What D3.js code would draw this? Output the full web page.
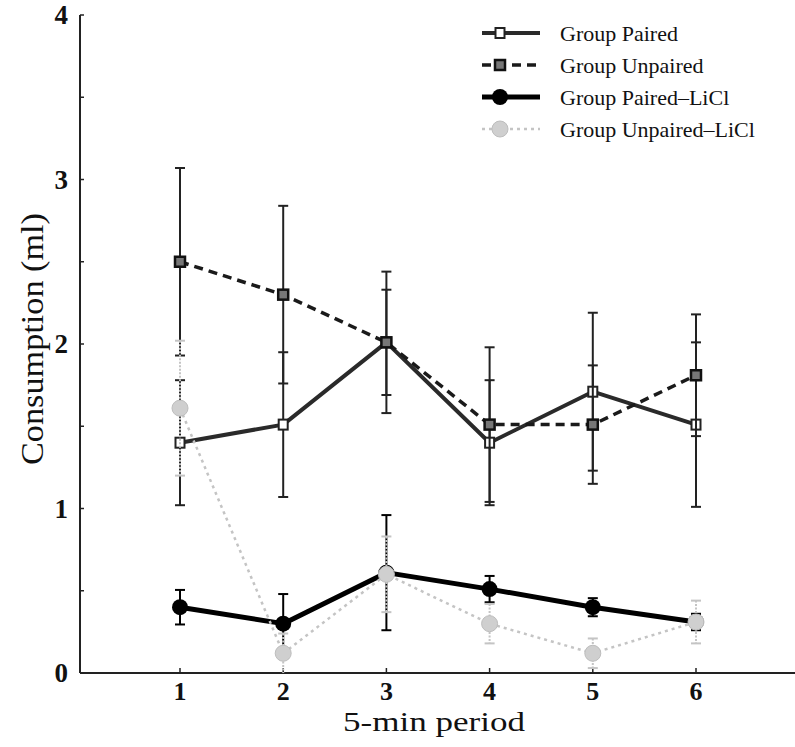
<!DOCTYPE html>
<html>
<head>
<meta charset="utf-8">
<script src="https://cdn.jsdelivr.net/npm/d3@7"></script>
<style>
  html, body { margin: 0; padding: 0; background: #fff; }
  svg { display: block; }
  text { font-family: "Liberation Serif", "Times New Roman", serif; fill: #111; }
</style>
</head>
<body>
<svg id="chart" width="795" height="747"></svg>
<script>
// ---------- data ----------
const periods = [1, 2, 3, 4, 5, 6];
const yTickValues = [0, 1, 2, 3, 4];
const yMinorTicks = [0, 0.5, 1, 1.5, 2, 2.5, 3, 3.5, 4];

const paired        = [1.40, 1.51, 2.01, 1.40, 1.71, 1.51];
const pairedErr     = [0.38, 0.44, 0.32, 0.38, 0.48, 0.50];
const unpaired      = [2.50, 2.30, 2.01, 1.51, 1.51, 1.81];
const unpairedErr   = [0.57, 0.54, 0.43, 0.47, 0.36, 0.37];
const pairedLiCl    = [0.40, 0.30, 0.61, 0.51, 0.40, 0.31];
const pairedLiClErr = [0.105, 0.18, 0.35, 0.08, 0.055, 0.05];
const unpairedLiCl    = [1.61, 0.12, 0.60, 0.30, 0.12, 0.31];
const unpairedLiClErr = [0.41, 0.12, 0.23, 0.12, 0.09, 0.13];

const seriesNames = ["Group Paired", "Group Unpaired", "Group Paired\u2013LiCl", "Group Unpaired\u2013LiCl"];

// ---------- layout ----------
const svg = d3.select("#chart");
const x = d3.scaleLinear().domain([1, 6]).range([180, 696]);
const y = d3.scaleLinear().domain([0, 4]).range([673, 15]);
const axisLeftX = 80, axisRightX = 795;

const styles = [
  { values: paired, err: pairedErr, color: "#2a2a2a", width: 4, dash: null, marker: "openSquare", errColor: "#222" },
  { values: unpaired, err: unpairedErr, color: "#1a1a1a", width: 3.5, dash: "9,6", marker: "square", errColor: "#222" },
  { values: pairedLiCl, err: pairedLiClErr, color: "#000", width: 5, dash: null, marker: "circle", errColor: "#000" },
  { values: unpairedLiCl, err: unpairedLiClErr, color: "#c4c4c4", width: 2.5, dash: "3,4", marker: "grayCircle", errColor: "#c4c4c4" }
];

// ---------- axes ----------
const gAxes = svg.append("g");
gAxes.append("line").attr("x1", axisLeftX).attr("x2", axisLeftX)
  .attr("y1", y(4)).attr("y2", y(0)).attr("stroke", "#222").attr("stroke-width", 2);
gAxes.append("line").attr("x1", axisLeftX).attr("x2", axisRightX)
  .attr("y1", y(0)).attr("y2", y(0)).attr("stroke", "#222").attr("stroke-width", 2);

gAxes.selectAll(".ytick").data(yMinorTicks).join("line")
  .attr("x1", axisLeftX).attr("x2", axisLeftX + 4)
  .attr("y1", d => y(d)).attr("y2", d => y(d))
  .attr("stroke", "#222").attr("stroke-width", 1.5);

gAxes.selectAll(".ylab").data(yTickValues).join("text")
  .attr("x", 68).attr("y", d => y(d))
  .attr("text-anchor", "end").attr("dominant-baseline", "central")
  .attr("font-size", 27).attr("font-weight", "bold")
  .text(d => d);

gAxes.selectAll(".xtick").data(periods).join("line")
  .attr("x1", d => x(d)).attr("x2", d => x(d))
  .attr("y1", y(0)).attr("y2", y(0) - 5)
  .attr("stroke", "#222").attr("stroke-width", 1.5);

gAxes.selectAll(".xlab").data(periods).join("text")
  .attr("x", d => x(d)).attr("y", 700)
  .attr("text-anchor", "middle")
  .attr("font-size", 26).attr("font-weight", "bold")
  .text(d => d);

svg.append("text")
  .attr("x", 434).attr("y", 731)
  .attr("text-anchor", "middle")
  .attr("font-size", 27)
  .attr("textLength", 182).attr("lengthAdjust", "spacingAndGlyphs")
  .text("5-min period");

svg.append("text")
  .attr("transform", "translate(43,339) rotate(-90)")
  .attr("text-anchor", "middle")
  .attr("font-size", 31)
  .attr("textLength", 252).attr("lengthAdjust", "spacingAndGlyphs")
  .text("Consumption (ml)");

// ---------- series ----------
function drawMarker(g, type, cx, cy) {
  if (type === "openSquare") {
    g.append("rect").attr("x", cx - 4.5).attr("y", cy - 5).attr("width", 9).attr("height", 10)
      .attr("fill", "#fff").attr("stroke", "#222").attr("stroke-width", 2);
  } else if (type === "square") {
    g.append("rect").attr("x", cx - 5).attr("y", cy - 5).attr("width", 10).attr("height", 10)
      .attr("fill", "#777").attr("stroke", "#111").attr("stroke-width", 2.5);
  } else if (type === "circle") {
    g.append("circle").attr("cx", cx).attr("cy", cy).attr("r", 8).attr("fill", "#000");
  } else if (type === "grayCircle") {
    g.append("circle").attr("cx", cx).attr("cy", cy).attr("r", 8)
      .attr("fill", "#cfcfcf").attr("stroke", "#bdbdbd").attr("stroke-width", 1);
  }
}

const line = d3.line().x((d, i) => x(periods[i])).y(d => y(d));
const drawOrder = [0, 1, 2, 3];
drawOrder.forEach(si => {
  const s = styles[si];
  const g = svg.append("g");
  // error bars
  s.values.forEach((v, i) => {
    const cx = x(periods[i]);
    const lo = Math.max(0, v - s.err[i]), hi = v + s.err[i];
    g.append("line").attr("x1", cx).attr("x2", cx).attr("y1", y(hi)).attr("y2", y(lo))
      .attr("stroke", s.errColor).attr("stroke-width", 2)
      .attr("stroke-dasharray", si === 3 ? "2,1.5" : null);
    [hi, lo].forEach(e => {
      if (e <= 0.001) return;
      g.append("line").attr("x1", cx - 5).attr("x2", cx + 5).attr("y1", y(e)).attr("y2", y(e))
        .attr("stroke", s.errColor).attr("stroke-width", 2);
    });
  });
  g.append("path").datum(s.values).attr("d", line)
    .attr("fill", "none").attr("stroke", s.color).attr("stroke-width", s.width)
    .attr("stroke-dasharray", s.dash).attr("stroke-linejoin", "round");
  s.values.forEach((v, i) => drawMarker(g, s.marker, x(periods[i]), y(v)));
});

// ---------- legend ----------
const legendRows = [33, 65, 97, 129];
const lg = svg.append("g");
seriesNames.forEach((name, i) => {
  const s = styles[i];
  const ly = legendRows[i];
  lg.append("line").attr("x1", 482).attr("x2", 540).attr("y1", ly).attr("y2", ly)
    .attr("stroke", s.color).attr("stroke-width", s.width).attr("stroke-dasharray", s.dash);
  drawMarker(lg, s.marker, 500, ly);
  lg.append("text").attr("x", 560).attr("y", ly)
    .attr("dominant-baseline", "central").attr("font-size", 22).text(name);
});
</script>
</body>
</html>
